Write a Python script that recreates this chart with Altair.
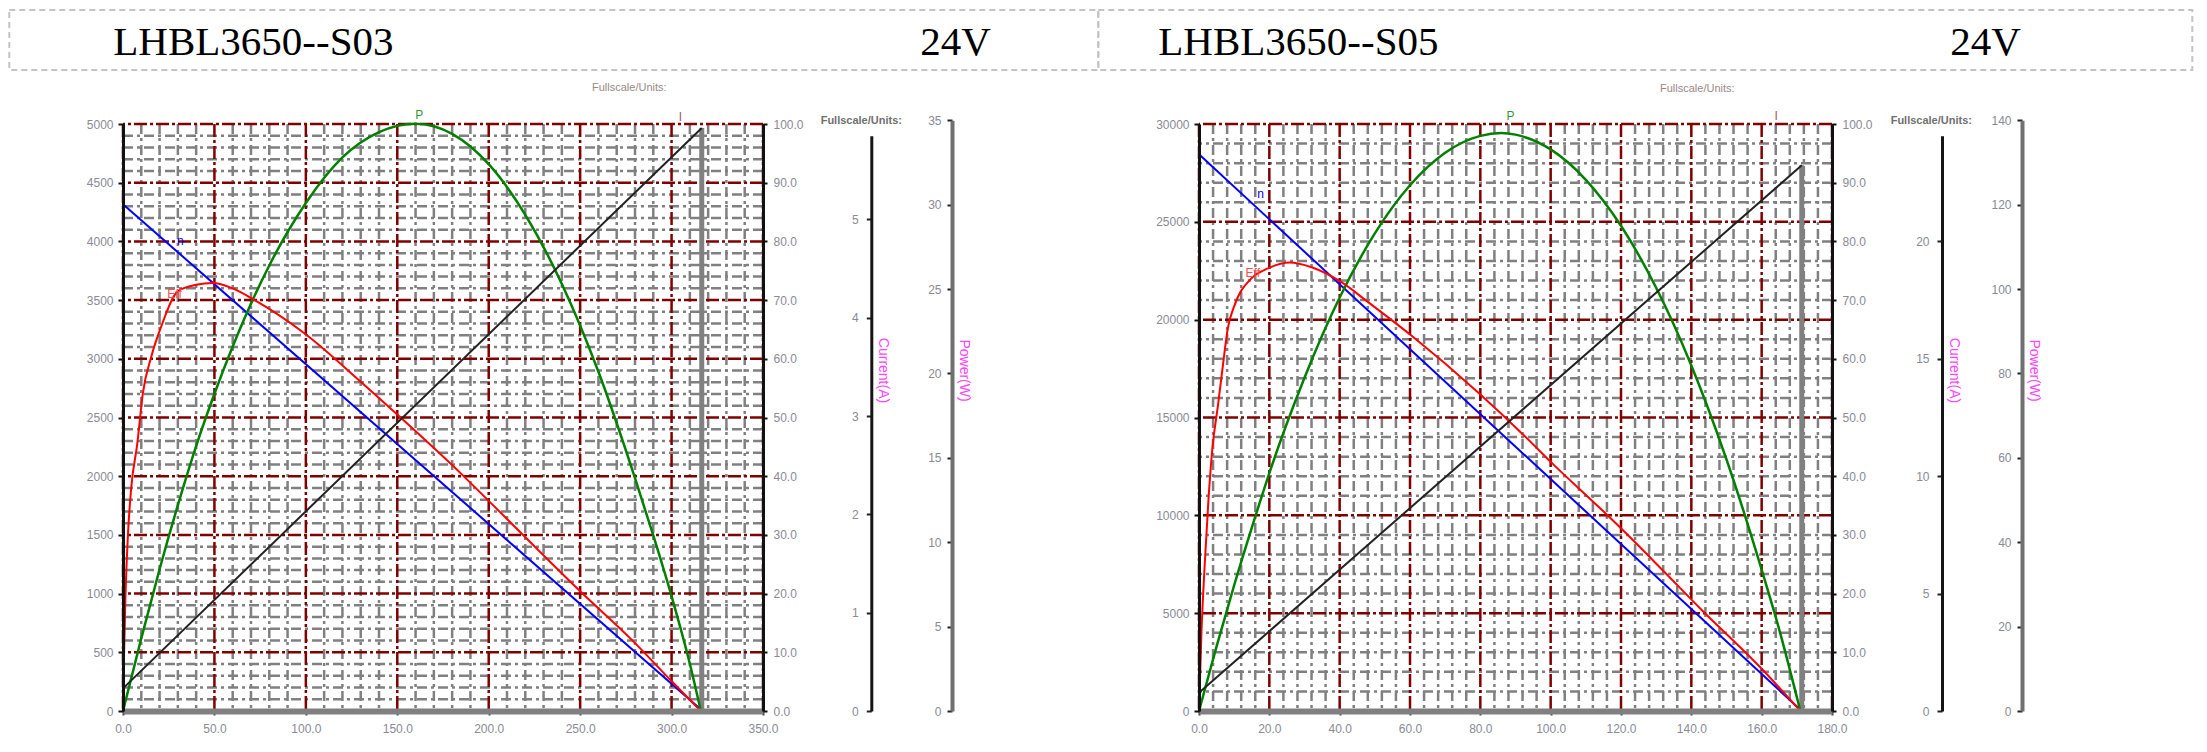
import altair as alt
import pandas as pd

# ---------------- texts ----------------
MODELS = ["LHBL3650--S03", "LHBL3650--S05"]
VOLTAGES = ["24V", "24V"]
FULLSCALE_TEXT = "Fullscale/Units:"
CURRENT_TITLE = "Current(A)"
POWER_TITLE = "Power(W)"
CURVE_LABELS = ["n", "Eff", "P", "I"]
CURVE_LABEL_COLORS = ["#0000ff", "#ff4d4d", "#339933", "#a05a5a"]

PCT_TICKS = [0, 10, 20, 30, 40, 50, 60, 70, 80, 90, 100]

# ---------------- LHBL3650--S03 (x = torque) ----------------
S03_X_TICKS = [0, 50, 100, 150, 200, 250, 300, 350]
S03_X_MINOR = [v for v in range(0, 351, 10) if v % 50]
S03_SPEED_TICKS = [0, 500, 1000, 1500, 2000, 2500, 3000, 3500, 4000, 4500, 5000]
S03_SPEED_MINOR = [v for v in range(0, 5001, 100) if v % 500]
S03_CUR_TICKS = [0, 1, 2, 3, 4, 5]
S03_POW_TICKS = [0, 5, 10, 15, 20, 25, 30, 35]

S03_SPEED_T = [0, 317]
S03_SPEED = [4316, 0]
S03_CUR_T = [0, 316.5]
S03_CUR = [0.23, 5.93]
S03_POW_T = [0, 10, 20, 30, 40, 50, 60, 80, 100, 120, 140, 160, 180, 200, 220, 240, 260, 280, 290, 300, 310, 316]
S03_POW = [0, 4.3, 8.4, 12.2, 15.7, 18.8, 21.6, 26.4, 30.1, 32.8, 34.3, 34.8, 34.2, 32.4, 29.4, 25.3, 20.1, 13.8, 10.4, 6.8, 2.8, 0]
S03_EFF_T = [0, 0.6, 1.3, 2.7, 4.5, 7.8, 10.9, 15.5, 20.9, 30, 40, 49, 60, 72, 99, 130, 150, 185, 200, 250, 278, 299, 316]
S03_EFF = [0, 10, 19, 30, 38, 45.5, 54.2, 60.4, 65.5, 71.5, 72.6, 72.9, 72.0, 70.0, 64.4, 56.1, 50.5, 40.4, 35.8, 20.4, 12.2, 5.4, 0]
S03_LABEL_T = [31.3, 28.2, 162, 304.8]
S03_LABEL_V = [4000, 3555, 5073, 5060]

# ---------------- LHBL3650--S05 ----------------
S05_X_TICKS = [0, 20, 40, 60, 80, 100, 120, 140, 160, 180]
S05_X_MINOR = [v for v in range(0, 181, 4) if v % 20]
S05_SPEED_TICKS = [0, 5000, 10000, 15000, 20000, 25000, 30000]
S05_SPEED_MINOR = [v for v in range(0, 30001, 1000) if v % 5000]
S05_CUR_TICKS = [0, 5, 10, 15, 20]
S05_POW_TICKS = [0, 20, 40, 60, 80, 100, 120, 140]

S05_SPEED_T = [0, 171.4]
S05_SPEED = [28450, 0]
S05_CUR_T = [0, 171.4]
S05_CUR = [0.78, 23.24]
S05_POW_T = [0, 5, 10, 15, 20, 30, 40, 50, 60, 70, 80, 86, 90, 100, 110, 120, 130, 140, 150, 160, 165, 171]
S05_POW = [0, 15.3, 29.8, 43.4, 56.4, 79.0, 98.0, 113.2, 124.6, 132.3, 136.3, 137.0, 136.6, 133.1, 125.9, 115.0, 100.3, 81.9, 59.6, 33.5, 19.3, 0]
S05_EFF_T = [0, 0.7, 1.6, 2.7, 3.8, 5.4, 6.8, 8.2, 10.1, 14.9, 19.6, 25.8, 32, 40.4, 48, 60.3, 79.3, 92.5, 100.6, 114.3, 120.2, 132, 142.8, 160, 171]
S05_EFF = [0, 13.4, 24.7, 36.1, 44.7, 52.1, 58.9, 65.2, 69.1, 73.7, 75.4, 76.4, 75.6, 73.1, 69.7, 64.0, 54.3, 46.9, 42.1, 34.4, 31.0, 23.9, 17.3, 7.2, 0]
S05_LABEL_T = [17.5, 15.3, 88.6, 164.1]
S05_LABEL_V = [26414, 22380, 30395, 30395]

# ---------------- styling ----------------
FONT = "Liberation Sans"
LBL = "#8a8a96"
MAG = "#ff44ff"
GRID_MINOR = "#808080"
GRID_MAJOR = "#800000"
H = 587

LEFT = dict(
    model=MODELS[0], volt=VOLTAGES[0], W=640,
    x_max=350, x_ticks=S03_X_TICKS, x_minor=S03_X_MINOR,
    speed_max=5000, speed_ticks=S03_SPEED_TICKS, speed_minor=S03_SPEED_MINOR,
    cur_top=5.85, cur_full=5.97, cur_ticks=S03_CUR_TICKS,
    pow_max=35, pow_ticks=S03_POW_TICKS,
    speed_T=S03_SPEED_T, speed=S03_SPEED, cur_T=S03_CUR_T, cur=S03_CUR,
    pow_T=S03_POW_T, pow=S03_POW, eff_T=S03_EFF_T, eff=S03_EFF,
    lab_T=S03_LABEL_T, lab_v=S03_LABEL_V,
    box=(-113.7, 975.3), model_x=-9.7, volt_x=797.3,
    fs_top=(506.3, -36), fs_axis=(738.3, -3),
    cur_x=748.3, pow_x=829,
)
RIGHT = dict(
    model=MODELS[1], volt=VOLTAGES[1], W=633,
    x_max=180, x_ticks=S05_X_TICKS, x_minor=S05_X_MINOR,
    speed_max=30000, speed_ticks=S05_SPEED_TICKS, speed_minor=S05_SPEED_MINOR,
    cur_top=24.5, cur_full=25, cur_ticks=S05_CUR_TICKS,
    pow_max=140, pow_ticks=S05_POW_TICKS,
    speed_T=S05_SPEED_T, speed=S05_SPEED, cur_T=S05_CUR_T, cur=S05_CUR,
    pow_T=S05_POW_T, pow=S05_POW, eff_T=S05_EFF_T, eff=S05_EFF,
    lab_T=S05_LABEL_T, lab_v=S05_LABEL_V,
    box=(-100.7, 993.3), model_x=-40.7, volt_x=751.3,
    fs_top=(498.3, -35), fs_axis=(732.3, -3),
    cur_x=743, pow_x=823,
)


def side_axis(offset_x, ticks, title, dom_color, dom_width, pad):
    return alt.Axis(
        orient="left", offset=-offset_x, values=ticks, format="d", title=title,
        titleAngle=90, titleX=11, titleY=246, titleAlign="center", titleBaseline="middle",
        titleColor=MAG, titleFont=FONT, titleFontSize=14, titleFontWeight="normal",
        grid=False, domainColor=dom_color, domainWidth=dom_width,
        tickColor="#222222", tickSize=5, tickWidth=2, labelPadding=pad,
        labelFont=FONT, labelFontSize=12, labelColor=LBL, zindex=2,
    )


def panel(d):
    W = d["W"]
    xs = alt.Scale(domain=[0, d["x_max"]], nice=False, zero=False)
    xaxis = alt.Axis(
        values=d["x_ticks"], format=".1f", title=None, grid=False,
        labelFlush=False, labelOverlap=False,
        domainColor="#808080", domainWidth=6, tickColor="#404040", tickSize=4, tickWidth=2,
        labelPadding=8, labelFontSize=12, labelFont=FONT, labelColor=LBL, zindex=2,
    )
    X = alt.X("T:Q", scale=xs, axis=xaxis)
    sp = alt.Scale(domain=[0, d["speed_max"]], nice=False, zero=False)
    pc = alt.Scale(domain=[0, 100], nice=False, zero=False)
    cu = alt.Scale(domain=[0, d["cur_top"]], range=[H, H * (1 - d["cur_top"] / d["cur_full"])],
                   nice=False, zero=False)
    pw = alt.Scale(domain=[0, d["pow_max"]], range=[H, -3.7], nice=False, zero=False)

    one = pd.DataFrame({"model": [d["model"]], "volt": [d["volt"]], "fs": [FULLSCALE_TEXT]})
    box = alt.Chart(one).mark_rect(fillOpacity=0, stroke="#c4c4c4", strokeWidth=2, strokeDash=[6, 4]).encode(
        x=alt.value(d["box"][0]), x2=alt.value(d["box"][1]), y=alt.value(-114), y2=alt.value(-54))
    model = alt.Chart(one).mark_text(align="left", baseline="alphabetic", font="Liberation Serif",
                                     fontSize=41, color="#000000").encode(
        text="model:N", x=alt.value(d["model_x"]), y=alt.value(-69))
    volt = alt.Chart(one).mark_text(align="left", baseline="alphabetic", font="Liberation Serif",
                                    fontSize=41, color="#000000").encode(
        text="volt:N", x=alt.value(d["volt_x"]), y=alt.value(-69))
    fs1 = alt.Chart(one).mark_text(font=FONT, fontSize=11, color="#9a8888").encode(
        text="fs:N", x=alt.value(d["fs_top"][0]), y=alt.value(d["fs_top"][1]))
    fs2 = alt.Chart(one).mark_text(font=FONT, fontSize=11, fontWeight="bold", color="#707070").encode(
        text="fs:N", x=alt.value(d["fs_axis"][0]), y=alt.value(d["fs_axis"][1]))

    vminor = alt.Chart(pd.DataFrame({"T": d["x_minor"]})).mark_rule(
        color=GRID_MINOR, strokeWidth=2.5, strokeDash=[10, 4, 3, 4]).encode(x=X)
    hminor = alt.Chart(pd.DataFrame({"v": d["speed_minor"]})).mark_rule(
        color=GRID_MINOR, strokeWidth=2.5, strokeDash=[10, 4, 3, 4]).encode(
        y=alt.Y("v:Q", scale=sp, axis=None))
    vmajor = alt.Chart(pd.DataFrame({"T": d["x_ticks"]})).mark_rule(
        color=GRID_MAJOR, strokeWidth=2.5, strokeDash=[13, 3, 3, 3]).encode(x=X)
    hmajor = alt.Chart(pd.DataFrame({"v": d["speed_ticks"]})).mark_rule(
        color=GRID_MAJOR, strokeWidth=2.5, strokeDash=[13, 3, 3, 3]).encode(
        y=alt.Y("v:Q", scale=sp, axis=None))

    stall = alt.Chart(pd.DataFrame({"T": [d["cur_T"][-1]], "I": [d["cur"][-1]], "I0": [0]})).mark_rule(
        color="#808080", strokeWidth=5).encode(
        x=X, y=alt.Y("I:Q", scale=cu, axis=None), y2=alt.Y2("I0:Q"))

    speed_axis = alt.Axis(
        orient="left", values=d["speed_ticks"], format="d", title=None, grid=False,
        domainColor="#111111", domainWidth=3, tickColor="#111111", tickSize=5, tickWidth=2,
        labelPadding=5, labelFontSize=12, labelFont=FONT, labelColor=LBL, zindex=2)
    blue = alt.Chart(pd.DataFrame({"T": d["speed_T"], "n": d["speed"]})).mark_line(
        color="#0000ff", strokeWidth=2).encode(x=X, y=alt.Y("n:Q", scale=sp, axis=speed_axis))

    green = alt.Chart(pd.DataFrame({"T": d["pow_T"], "P": d["pow"]})).mark_line(
        color="#008000", strokeWidth=2.5, interpolate="monotone").encode(
        x=X, y=alt.Y("P:Q", scale=pw,
                     axis=side_axis(d["pow_x"], d["pow_ticks"], POWER_TITLE, "#707070", 4, 6)))

    pct_axis = alt.Axis(
        orient="right", values=PCT_TICKS, format=".1f", title=None, grid=False,
        domainColor="#111111", domainWidth=3, tickColor="#111111", tickSize=4, tickWidth=2,
        labelPadding=6, labelFontSize=12, labelFont=FONT, labelColor=LBL, zindex=2)
    red = alt.Chart(pd.DataFrame({"T": d["eff_T"], "E": d["eff"]})).mark_line(
        color="#ff0000", strokeWidth=2, interpolate="monotone").encode(
        x=X, y=alt.Y("E:Q", scale=pc, axis=pct_axis))

    black = alt.Chart(pd.DataFrame({"T": d["cur_T"], "I": d["cur"]})).mark_line(
        color="#222222", strokeWidth=2).encode(
        x=X, y=alt.Y("I:Q", scale=cu,
                     axis=side_axis(d["cur_x"], d["cur_ticks"], CURRENT_TITLE, "#151515", 3, 8)))

    labels = alt.Chart(pd.DataFrame({"T": d["lab_T"], "v": d["lab_v"], "txt": CURVE_LABELS})).mark_text(
        font=FONT, fontSize=12).encode(
        x=X, y=alt.Y("v:Q", scale=sp, axis=None), text="txt:N",
        color=alt.Color("txt:N", scale=alt.Scale(domain=CURVE_LABELS, range=CURVE_LABEL_COLORS), legend=None))

    return alt.layer(
        box, model, volt, fs1, fs2, vminor, hminor, vmajor, hmajor, stall,
        blue, green, red, black, labels,
    ).resolve_scale(y="independent").properties(width=W, height=H)


chart = alt.hconcat(panel(LEFT), panel(RIGHT), spacing=436, bounds="flush").properties(
    padding={"left": 0, "top": 1, "right": 0, "bottom": 0}, background="white"
).configure_view(strokeWidth=0)

chart.save("out.html", embed_options={"renderer": "svg", "actions": False})
